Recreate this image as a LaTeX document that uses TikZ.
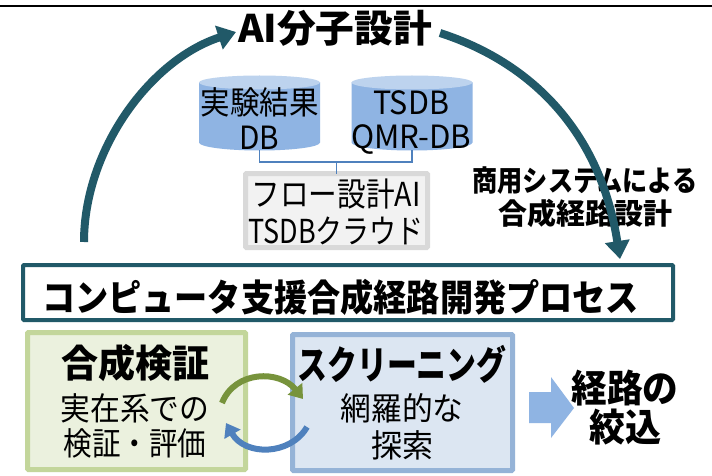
\documentclass[tikz,border=0pt]{standalone}
\usepackage{graphicx}
\usepackage{fontspec}
\setmainfont{Noto Sans CJK JP}
\usetikzlibrary{arrows.meta,positioning}
\definecolor{teal}{HTML}{215968}
\definecolor{dbbody}{HTML}{8FB4E3}
\definecolor{dbtop}{HTML}{BDD3EE}
\definecolor{linkblue}{HTML}{4F81BD}
\definecolor{grayedge}{HTML}{D9D9D9}
\definecolor{grayfill}{HTML}{F2F2F2}
\definecolor{greenedge}{HTML}{C3D69B}
\definecolor{greenfill}{HTML}{EBF1DE}
\definecolor{blueedge}{HTML}{95B3D7}
\definecolor{bluefill}{HTML}{DCE6F2}
\definecolor{greenarrow}{HTML}{77933C}
\newcommand{\fitw}[3]{\resizebox{#1pt}{\height}{\fontsize{#2}{#2}\selectfont\rule[-.12em]{0pt}{1em}#3}}
\newcommand{\fitb}[3]{\resizebox{#1pt}{\height}{\fontsize{#2}{#2}\selectfont\bfseries\rule[-.12em]{0pt}{1em}#3}}
\tikzset{
  txt/.style={inner sep=0pt,outer sep=0pt,align=center,text=black},
  dbnode/.style={minimum width=121pt,minimum height=75pt,inner sep=0pt,outer sep=0pt},
  bigarrow/.style={draw=teal,line width=8pt,-{Triangle[length=18pt,width=24pt]}},
  smallgreen/.style={draw=greenarrow,line width=6pt,-{Triangle[length=13pt,width=18pt]}},
  smallblue/.style={draw=linkblue,line width=6pt,-{Triangle[length=13pt,width=18pt]}},
  link/.style={draw=linkblue,line width=1.3pt},
  sqbox/.style={line width=5pt,rounded corners=1pt,inner sep=0pt,outer sep=0pt},
}
\begin{document}
\begin{tikzpicture}[x=1pt,y=-1pt]
\useasboundingbox (0,0) rectangle (712,476);
\fill[white] (0,0) rectangle (712,476);
\draw[black,line width=2.5pt] (0,6) -- (712,6);
% nodes
\node[txt] (ai) at (335,28) {\fitb{194}{38}{AI分子設計}};
\coordinate (leftstart) at (84,242);
\coordinate (lefttip) at (236,32);
\coordinate (rightstart) at (440,33);
\coordinate (righttip) at (620,259);
% databases
\node[dbnode] (dba) at (259.5,113) {};
\node[dbnode] (dbb) at (412,113) {};
\foreach \n in {dba,dbb}{
  \fill[dbbody] (\n.north west) ++(0,7) -- ++(0,60) arc[x radius=60.5,y radius=-8,start angle=180,end angle=360] -- ++(0,-60) -- cycle;
  \fill[dbtop] (\n.north west) ++(0,7) arc[x radius=60.5,y radius=7,start angle=180,end angle=0] arc[x radius=60.5,y radius=7,start angle=0,end angle=-180] -- cycle;
}
\node[txt] (t1) at (259.5,102) {\fitw{118}{32}{実験結果}};
\node[txt] (t2) at (259.5,137) {\fitw{40}{32}{DB}};
\node[txt] (t3) at (411,102) {\fitw{76}{32}{TSDB}};
\node[txt] (t4) at (411,137) {\fitw{120}{32}{QMR-DB}};
% cloud box
\node[sqbox,draw=grayedge,fill=grayfill,minimum width=182pt,minimum height=74pt] (cloud) at (336.5,210.5) {};
\node[txt] (c1) at (336,194) {\fitw{169}{33}{フロー設計AI}};
\node[txt] (c2) at (336,231) {\fitw{175}{33}{TSDBクラウド}};
\coordinate (junction) at (336.5,162);
\draw[link] (dba.south) |- (junction) -| (dbb.south);
\draw[link] (junction) -- (cloud.north);
% side text
\node[txt] (s1) at (585,180) {\fitb{225}{29}{商用システムによる}};
\node[txt] (s2) at (585,213) {\fitb{174}{29}{合成経路設計}};
% process
\node[line width=4pt,draw=teal,fill=white,minimum width=650pt,minimum height=55pt,inner sep=0pt,outer sep=0pt,rounded corners=1pt] (proc) at (348,292.5) {};
\node[txt] (proct) at (340.5,297) {\fitb{597}{37}{コンピュータ支援合成経路開発プロセス}};
% arrows
\draw[bigarrow] (leftstart) .. controls (84,150) and (150,60) .. (lefttip);
\draw[bigarrow] (rightstart) .. controls (530,62) and (600,130) .. (righttip);
% lower boxes
\node[sqbox,draw=greenedge,fill=greenfill,minimum width=218pt,minimum height=137pt] (gb) at (136.5,401) {};
\node[sqbox,draw=blueedge,fill=bluefill,minimum width=220pt,minimum height=136pt] (bb) at (402.5,402.5) {};
\node[txt] (g1) at (135,363) {\fitb{148}{38}{合成検証}};
\node[txt] (g2) at (135,408) {\fitw{149}{32}{実在系での}};
\node[txt] (g3) at (135,443) {\fitw{143}{32}{検証・評価}};
\node[txt] (b1) at (402,365) {\fitb{209}{39}{スクリーニング}};
\node[txt] (b2) at (402,408) {\fitw{123}{32}{網羅的な}};
\node[txt] (b3) at (402,445) {\fitw{62}{32}{探索}};
\coordinate (ga) at (222,403);
\coordinate (gc) at (303,399);
\coordinate (ba) at (307,427);
\coordinate (bc) at (226,423);
\draw[smallgreen] (ga) .. controls (235,370) and (280,370) .. (gc);
\draw[smallblue] (ba) .. controls (290,456) and (245,456) .. (bc);
% result arrow
\fill[dbbody] (529,392) -- (551,392) -- (551,377) -- (574,408) -- (551,438) -- (551,423) -- (529,423) -- cycle;
\node[txt] (r1) at (625,388) {\fitb{107}{38}{経路の}};
\node[txt] (r2) at (625,427) {\fitb{72}{38}{絞込}};
\end{tikzpicture}
\end{document}
